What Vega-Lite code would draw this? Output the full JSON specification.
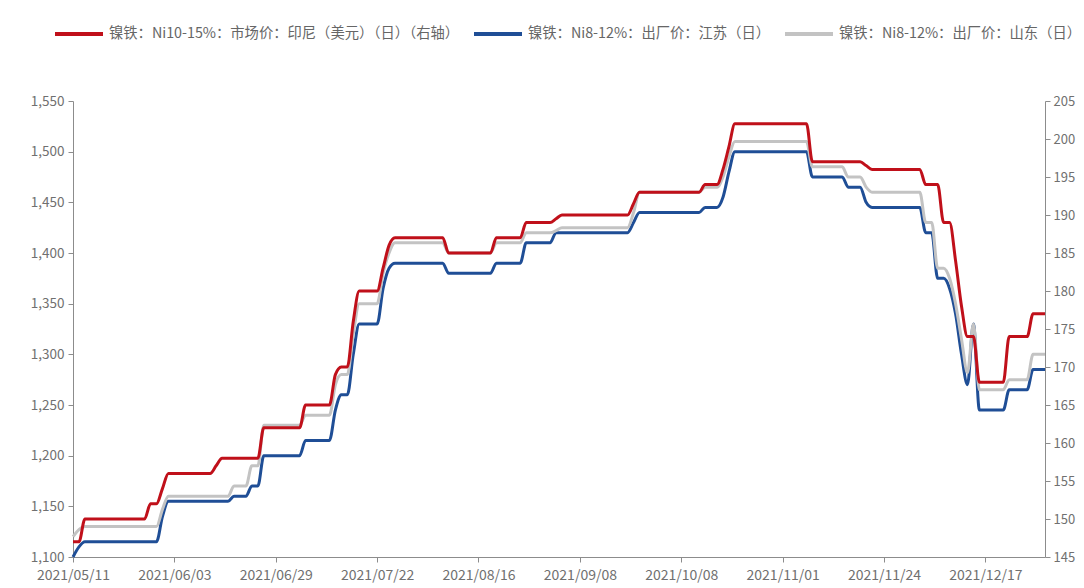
{
  "$schema": "https://vega.github.io/schema/vega-lite/v6.json",
  "width": 972,
  "height": 456,
  "autosize": {"type": "none"},
  "padding": {"left": 73, "top": 101, "right": 39, "bottom": 31},
  "background": "white",
  "config": {
    "view": {"stroke": null},
    "font": "Noto Sans CJK SC",
    "axis": {
      "grid": false,
      "domainColor": "#8c8c8c",
      "tickColor": "#8c8c8c",
      "labelColor": "#707070",
      "labelFontSize": 13,
      "tickSize": 5,
      "title": null
    },
    "legend": {
      "orient": "none",
      "legendX": -20,
      "legendY": -93,
      "direction": "horizontal",
      "symbolType": "stroke",
      "symbolSize": 2304,
      "symbolStrokeWidth": 4,
      "labelFontSize": 14.3,
      "labelColor": "#666666",
      "labelOffset": 4,
      "columnPadding": 6,
      "labelLimit": 1000,
      "title": null
    }
  },
  "data": {
    "values": [
      {"d": "2021/05/11", "r": 147, "b": 1100, "g": 1120},
      {"d": "2021/05/12", "r": 147, "b": 1110, "g": 1127},
      {"d": "2021/05/13", "r": 150, "b": 1115, "g": 1130},
      {"d": "2021/05/14", "r": 150, "b": 1115, "g": 1130},
      {"d": "2021/05/17", "r": 150, "b": 1115, "g": 1130},
      {"d": "2021/05/18", "r": 150, "b": 1115, "g": 1130},
      {"d": "2021/05/19", "r": 150, "b": 1115, "g": 1130},
      {"d": "2021/05/20", "r": 150, "b": 1115, "g": 1130},
      {"d": "2021/05/21", "r": 150, "b": 1115, "g": 1130},
      {"d": "2021/05/24", "r": 150, "b": 1115, "g": 1130},
      {"d": "2021/05/25", "r": 150, "b": 1115, "g": 1130},
      {"d": "2021/05/26", "r": 150, "b": 1115, "g": 1130},
      {"d": "2021/05/27", "r": 150, "b": 1115, "g": 1130},
      {"d": "2021/05/28", "r": 152, "b": 1115, "g": 1130},
      {"d": "2021/05/31", "r": 152, "b": 1115, "g": 1130},
      {"d": "2021/06/01", "r": 154, "b": 1140, "g": 1147},
      {"d": "2021/06/02", "r": 156, "b": 1155, "g": 1160},
      {"d": "2021/06/03", "r": 156, "b": 1155, "g": 1160},
      {"d": "2021/06/04", "r": 156, "b": 1155, "g": 1160},
      {"d": "2021/06/07", "r": 156, "b": 1155, "g": 1160},
      {"d": "2021/06/08", "r": 156, "b": 1155, "g": 1160},
      {"d": "2021/06/09", "r": 156, "b": 1155, "g": 1160},
      {"d": "2021/06/10", "r": 156, "b": 1155, "g": 1160},
      {"d": "2021/06/11", "r": 156, "b": 1155, "g": 1160},
      {"d": "2021/06/15", "r": 157, "b": 1155, "g": 1160},
      {"d": "2021/06/16", "r": 158, "b": 1155, "g": 1160},
      {"d": "2021/06/17", "r": 158, "b": 1155, "g": 1160},
      {"d": "2021/06/18", "r": 158, "b": 1160, "g": 1170},
      {"d": "2021/06/21", "r": 158, "b": 1160, "g": 1170},
      {"d": "2021/06/22", "r": 158, "b": 1160, "g": 1170},
      {"d": "2021/06/23", "r": 158, "b": 1170, "g": 1190},
      {"d": "2021/06/24", "r": 158, "b": 1170, "g": 1190},
      {"d": "2021/06/25", "r": 162, "b": 1200, "g": 1230},
      {"d": "2021/06/28", "r": 162, "b": 1200, "g": 1230},
      {"d": "2021/06/29", "r": 162, "b": 1200, "g": 1230},
      {"d": "2021/06/30", "r": 162, "b": 1200, "g": 1230},
      {"d": "2021/07/01", "r": 162, "b": 1200, "g": 1230},
      {"d": "2021/07/02", "r": 162, "b": 1200, "g": 1230},
      {"d": "2021/07/05", "r": 162, "b": 1200, "g": 1230},
      {"d": "2021/07/06", "r": 165, "b": 1215, "g": 1240},
      {"d": "2021/07/07", "r": 165, "b": 1215, "g": 1240},
      {"d": "2021/07/08", "r": 165, "b": 1215, "g": 1240},
      {"d": "2021/07/09", "r": 165, "b": 1215, "g": 1240},
      {"d": "2021/07/12", "r": 165, "b": 1215, "g": 1240},
      {"d": "2021/07/13", "r": 169, "b": 1245, "g": 1270},
      {"d": "2021/07/14", "r": 170, "b": 1260, "g": 1280},
      {"d": "2021/07/15", "r": 170, "b": 1260, "g": 1280},
      {"d": "2021/07/16", "r": 176, "b": 1300, "g": 1320},
      {"d": "2021/07/19", "r": 180, "b": 1330, "g": 1350},
      {"d": "2021/07/20", "r": 180, "b": 1330, "g": 1350},
      {"d": "2021/07/21", "r": 180, "b": 1330, "g": 1350},
      {"d": "2021/07/22", "r": 180, "b": 1330, "g": 1350},
      {"d": "2021/07/23", "r": 183, "b": 1365, "g": 1380},
      {"d": "2021/07/26", "r": 186, "b": 1385, "g": 1400},
      {"d": "2021/07/27", "r": 187, "b": 1390, "g": 1410},
      {"d": "2021/07/28", "r": 187, "b": 1390, "g": 1410},
      {"d": "2021/07/29", "r": 187, "b": 1390, "g": 1410},
      {"d": "2021/07/30", "r": 187, "b": 1390, "g": 1410},
      {"d": "2021/08/02", "r": 187, "b": 1390, "g": 1410},
      {"d": "2021/08/03", "r": 187, "b": 1390, "g": 1410},
      {"d": "2021/08/04", "r": 187, "b": 1390, "g": 1410},
      {"d": "2021/08/05", "r": 187, "b": 1390, "g": 1410},
      {"d": "2021/08/06", "r": 187, "b": 1390, "g": 1410},
      {"d": "2021/08/09", "r": 185, "b": 1380, "g": 1400},
      {"d": "2021/08/10", "r": 185, "b": 1380, "g": 1400},
      {"d": "2021/08/11", "r": 185, "b": 1380, "g": 1400},
      {"d": "2021/08/12", "r": 185, "b": 1380, "g": 1400},
      {"d": "2021/08/13", "r": 185, "b": 1380, "g": 1400},
      {"d": "2021/08/16", "r": 185, "b": 1380, "g": 1400},
      {"d": "2021/08/17", "r": 185, "b": 1380, "g": 1400},
      {"d": "2021/08/18", "r": 185, "b": 1380, "g": 1400},
      {"d": "2021/08/19", "r": 187, "b": 1390, "g": 1410},
      {"d": "2021/08/20", "r": 187, "b": 1390, "g": 1410},
      {"d": "2021/08/23", "r": 187, "b": 1390, "g": 1410},
      {"d": "2021/08/24", "r": 187, "b": 1390, "g": 1410},
      {"d": "2021/08/25", "r": 187, "b": 1390, "g": 1410},
      {"d": "2021/08/26", "r": 189, "b": 1410, "g": 1420},
      {"d": "2021/08/27", "r": 189, "b": 1410, "g": 1420},
      {"d": "2021/08/30", "r": 189, "b": 1410, "g": 1420},
      {"d": "2021/08/31", "r": 189, "b": 1410, "g": 1420},
      {"d": "2021/09/01", "r": 189, "b": 1410, "g": 1420},
      {"d": "2021/09/02", "r": 189.5, "b": 1420, "g": 1422},
      {"d": "2021/09/03", "r": 190, "b": 1420, "g": 1425},
      {"d": "2021/09/06", "r": 190, "b": 1420, "g": 1425},
      {"d": "2021/09/07", "r": 190, "b": 1420, "g": 1425},
      {"d": "2021/09/08", "r": 190, "b": 1420, "g": 1425},
      {"d": "2021/09/09", "r": 190, "b": 1420, "g": 1425},
      {"d": "2021/09/10", "r": 190, "b": 1420, "g": 1425},
      {"d": "2021/09/13", "r": 190, "b": 1420, "g": 1425},
      {"d": "2021/09/14", "r": 190, "b": 1420, "g": 1425},
      {"d": "2021/09/15", "r": 190, "b": 1420, "g": 1425},
      {"d": "2021/09/16", "r": 190, "b": 1420, "g": 1425},
      {"d": "2021/09/17", "r": 190, "b": 1420, "g": 1425},
      {"d": "2021/09/18", "r": 190, "b": 1420, "g": 1425},
      {"d": "2021/09/22", "r": 191.5, "b": 1430, "g": 1440},
      {"d": "2021/09/23", "r": 193, "b": 1440, "g": 1460},
      {"d": "2021/09/24", "r": 193, "b": 1440, "g": 1460},
      {"d": "2021/09/26", "r": 193, "b": 1440, "g": 1460},
      {"d": "2021/09/27", "r": 193, "b": 1440, "g": 1460},
      {"d": "2021/09/28", "r": 193, "b": 1440, "g": 1460},
      {"d": "2021/09/29", "r": 193, "b": 1440, "g": 1460},
      {"d": "2021/09/30", "r": 193, "b": 1440, "g": 1460},
      {"d": "2021/10/08", "r": 193, "b": 1440, "g": 1460},
      {"d": "2021/10/09", "r": 193, "b": 1440, "g": 1460},
      {"d": "2021/10/11", "r": 193, "b": 1440, "g": 1460},
      {"d": "2021/10/12", "r": 193, "b": 1440, "g": 1460},
      {"d": "2021/10/13", "r": 194, "b": 1445, "g": 1465},
      {"d": "2021/10/14", "r": 194, "b": 1445, "g": 1465},
      {"d": "2021/10/15", "r": 194, "b": 1445, "g": 1465},
      {"d": "2021/10/18", "r": 196, "b": 1455, "g": 1475},
      {"d": "2021/10/19", "r": 199, "b": 1480, "g": 1495},
      {"d": "2021/10/20", "r": 202, "b": 1500, "g": 1510},
      {"d": "2021/10/21", "r": 202, "b": 1500, "g": 1510},
      {"d": "2021/10/22", "r": 202, "b": 1500, "g": 1510},
      {"d": "2021/10/25", "r": 202, "b": 1500, "g": 1510},
      {"d": "2021/10/26", "r": 202, "b": 1500, "g": 1510},
      {"d": "2021/10/27", "r": 202, "b": 1500, "g": 1510},
      {"d": "2021/10/28", "r": 202, "b": 1500, "g": 1510},
      {"d": "2021/10/29", "r": 202, "b": 1500, "g": 1510},
      {"d": "2021/11/01", "r": 202, "b": 1500, "g": 1510},
      {"d": "2021/11/02", "r": 202, "b": 1500, "g": 1510},
      {"d": "2021/11/03", "r": 202, "b": 1500, "g": 1510},
      {"d": "2021/11/04", "r": 202, "b": 1500, "g": 1510},
      {"d": "2021/11/05", "r": 202, "b": 1500, "g": 1510},
      {"d": "2021/11/08", "r": 197, "b": 1475, "g": 1485},
      {"d": "2021/11/09", "r": 197, "b": 1475, "g": 1485},
      {"d": "2021/11/10", "r": 197, "b": 1475, "g": 1485},
      {"d": "2021/11/11", "r": 197, "b": 1475, "g": 1485},
      {"d": "2021/11/12", "r": 197, "b": 1475, "g": 1485},
      {"d": "2021/11/15", "r": 197, "b": 1475, "g": 1485},
      {"d": "2021/11/16", "r": 197, "b": 1465, "g": 1475},
      {"d": "2021/11/17", "r": 197, "b": 1465, "g": 1475},
      {"d": "2021/11/18", "r": 197, "b": 1465, "g": 1475},
      {"d": "2021/11/19", "r": 196.5, "b": 1450, "g": 1465},
      {"d": "2021/11/22", "r": 196, "b": 1445, "g": 1460},
      {"d": "2021/11/23", "r": 196, "b": 1445, "g": 1460},
      {"d": "2021/11/24", "r": 196, "b": 1445, "g": 1460},
      {"d": "2021/11/25", "r": 196, "b": 1445, "g": 1460},
      {"d": "2021/11/26", "r": 196, "b": 1445, "g": 1460},
      {"d": "2021/11/29", "r": 196, "b": 1445, "g": 1460},
      {"d": "2021/11/30", "r": 196, "b": 1445, "g": 1460},
      {"d": "2021/12/01", "r": 196, "b": 1445, "g": 1460},
      {"d": "2021/12/02", "r": 196, "b": 1445, "g": 1460},
      {"d": "2021/12/03", "r": 194, "b": 1420, "g": 1430},
      {"d": "2021/12/06", "r": 194, "b": 1420, "g": 1430},
      {"d": "2021/12/07", "r": 194, "b": 1375, "g": 1385},
      {"d": "2021/12/08", "r": 189, "b": 1375, "g": 1385},
      {"d": "2021/12/09", "r": 189, "b": 1365, "g": 1375},
      {"d": "2021/12/10", "r": 184, "b": 1340, "g": 1350},
      {"d": "2021/12/13", "r": 178, "b": 1300, "g": 1315},
      {"d": "2021/12/14", "r": 174, "b": 1270, "g": 1282},
      {"d": "2021/12/15", "r": 174, "b": 1330, "g": 1330},
      {"d": "2021/12/16", "r": 168, "b": 1245, "g": 1265},
      {"d": "2021/12/17", "r": 168, "b": 1245, "g": 1265},
      {"d": "2021/12/20", "r": 168, "b": 1245, "g": 1265},
      {"d": "2021/12/21", "r": 168, "b": 1245, "g": 1265},
      {"d": "2021/12/22", "r": 168, "b": 1245, "g": 1265},
      {"d": "2021/12/23", "r": 174, "b": 1265, "g": 1275},
      {"d": "2021/12/24", "r": 174, "b": 1265, "g": 1275},
      {"d": "2021/12/27", "r": 174, "b": 1265, "g": 1275},
      {"d": "2021/12/28", "r": 174, "b": 1265, "g": 1275},
      {"d": "2021/12/29", "r": 177, "b": 1285, "g": 1300},
      {"d": "2021/12/30", "r": 177, "b": 1285, "g": 1300},
      {"d": "2021/12/31", "r": 177, "b": 1285, "g": 1300}
    ]
  },
  "transform": [{"fold": ["r", "b", "g"], "as": ["s", "v"]}],
  "encoding": {
    "x": {
      "field": "d",
      "type": "ordinal",
      "scale": {"type": "point", "padding": 0},
      "axis": {
        "values": ["2021/05/11", "2021/06/03", "2021/06/29", "2021/07/22", "2021/08/16", "2021/09/08", "2021/10/08", "2021/11/01", "2021/11/24", "2021/12/17"],
        "labelAngle": 0,
        "labelPadding": 6,
        "labelFontSize": 14
      }
    },
    "color": {
      "field": "s",
      "type": "nominal",
      "scale": {"domain": ["r", "b", "g"], "range": ["#c0101a", "#1f4e96", "#c3c3c3"]},
      "legend": {
        "labelExpr": "datum.label == 'r' ? '镍铁：Ni10-15%：市场价：印尼（美元）（日）（右轴）' : datum.label == 'b' ? '镍铁：Ni8-12%：出厂价：江苏（日）' : '镍铁：Ni8-12%：出厂价：山东（日）'"
      }
    }
  },
  "layer": [
    {
      "transform": [{"filter": "datum.s != 'r'"}],
      "mark": {"type": "line", "interpolate": "monotone", "strokeWidth": 3},
      "encoding": {
        "y": {
          "field": "v",
          "type": "quantitative",
          "scale": {"domain": [1100, 1550], "nice": false, "zero": false},
          "axis": {
            "orient": "left",
            "values": [1100, 1150, 1200, 1250, 1300, 1350, 1400, 1450, 1500, 1550],
            "format": ",.0f",
            "labelFontSize": 13.5,
            "labelPadding": 4
          }
        }
      }
    },
    {
      "transform": [{"filter": "datum.s == 'r'"}],
      "mark": {"type": "line", "interpolate": "monotone", "strokeWidth": 3},
      "encoding": {
        "y": {
          "field": "v",
          "type": "quantitative",
          "scale": {"domain": [145, 205], "nice": false, "zero": false},
          "axis": {
            "orient": "right",
            "values": [145, 150, 155, 160, 165, 170, 175, 180, 185, 190, 195, 200, 205],
            "labelPadding": 3
          }
        }
      }
    }
  ],
  "resolve": {"scale": {"y": "independent"}}
}
